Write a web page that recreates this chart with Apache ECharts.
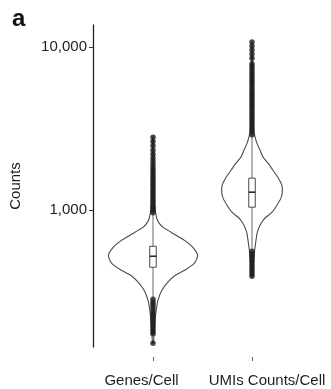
<!DOCTYPE html>
<html>
<head>
<meta charset="utf-8">
<script src="https://cdn.jsdelivr.net/npm/echarts@6/dist/echarts.min.js"></script>
<style>
  html, body { margin: 0; padding: 0; background: #ffffff; }
  #chart { width: 331px; height: 389px; }
</style>
</head>
<body>
<div id="chart"></div>
<script>
// Per-cell QC metrics on a log10 scale: violin + box plot per metric
const categories = ['Genes/Cell', 'UMIs Counts/Cell'];
const yTicks = [1000, 10000];

// Box statistics: [lower whisker, Q1, median, Q3, upper whisker]
const genesBox = [288, 447, 522, 601, 962];
const umisBox = [565, 1043, 1289, 1571, 2900];

// Violin outline: [count, relative half-width]
const genesDensity = [
  [153, 0.01], [190, 0.03], [230, 0.06], [280, 0.11], [323, 0.20], [361, 0.33],
  [399, 0.50], [428, 0.71], [473, 0.93], [529, 1.00], [593, 0.89], [655, 0.70],
  [723, 0.44], [760, 0.31], [787, 0.22], [825, 0.15], [868, 0.10], [930, 0.07],
  [1000, 0.05], [1152, 0.03], [1500, 0.02], [2026, 0.015], [2805, 0.01]
];
const umisDensity = [
  [393, 0.01], [480, 0.03], [569, 0.06], [655, 0.09], [733, 0.12], [809, 0.18],
  [893, 0.29], [972, 0.45], [1073, 0.56], [1185, 0.65], [1289, 0.68], [1423, 0.67],
  [1592, 0.58], [1758, 0.47], [1942, 0.36], [2113, 0.25], [2334, 0.18], [2575, 0.11],
  [2805, 0.07], [3097, 0.035], [4732, 0.015], [10740, 0.005]
];

// Outlying cells beyond the whiskers
const genesOutliers = [
  153, 175, 180, 186, 193, 200, 207, 214, 222, 230, 238, 247, 256, 265, 274, 284,
  965, 1000, 1035, 1070, 1110, 1150, 1190, 1230, 1275, 1320, 1370, 1420, 1470, 1520,
  1575, 1630, 1690, 1750, 1820, 1900, 1990, 2090, 2200, 2330, 2480, 2640, 2800
];
const umisOutliers = [
  394, 408, 423, 438, 454, 470, 487, 504, 522, 541, 560,
  2900, 3010, 3120, 3230, 3350, 3470, 3600, 3730, 3860, 4000, 4150, 4300, 4460, 4620,
  4790, 4960, 5140, 5330, 5520, 5720, 5930, 6150, 6370, 6600, 6840, 7090, 7350, 7620,
  7900, 8550, 9050, 9600, 10150, 10750
];

const boxes = [genesBox, umisBox];
const densities = [genesDensity, umisDensity];
const outliers = [genesOutliers, umisOutliers];

const FONT = 'Liberation Sans, Arial, Helvetica, sans-serif';
const TEXT = '#1e1e1e';
const VIOLIN_HALF = 0.45;   // half of a 0.9-wide violin, in x units
const BOX_HALF = 0.033;

function fmtThousands(v) {
  return String(Math.round(v)).replace(/\B(?=(\d{3})+(?!\d))/g, ',');
}

function renderViolin(params, api) {
  const i = params.dataIndex;
  const x = api.value(0);
  const dens = densities[i];
  const right = [], left = [];
  dens.forEach(function (d) {
    const c = api.coord([x, d[0]]);
    const w = api.coord([x + VIOLIN_HALF * d[1], d[0]])[0] - c[0];
    right.push([c[0] + w, c[1]]);
    left.push([c[0] - w, c[1]]);
  });
  const pts = right.concat(left.reverse());
  return {
    type: 'polygon',
    shape: { points: pts, smooth: 0.25 },
    style: { fill: '#ffffff', stroke: '#4a4a4a', lineWidth: 1.1 }
  };
}

function renderBox(params, api) {
  const i = params.dataIndex;
  const x = api.value(0);
  const b = boxes[i];
  const lo = api.coord([x, b[0]]);
  const q1 = api.coord([x, b[1]]);
  const md = api.coord([x, b[2]]);
  const q3 = api.coord([x, b[3]]);
  const hi = api.coord([x, b[4]]);
  const hw = api.coord([x + BOX_HALF, b[2]])[0] - md[0];
  return {
    type: 'group',
    children: [
      { type: 'line', shape: { x1: lo[0], y1: lo[1], x2: hi[0], y2: hi[1] },
        style: { stroke: '#6a6a6a', lineWidth: 1 } },
      { type: 'rect', shape: { x: md[0] - hw, y: q3[1], width: 2 * hw, height: q1[1] - q3[1] },
        style: { fill: '#ffffff', stroke: '#4a4a4a', lineWidth: 1 } },
      { type: 'line', shape: { x1: md[0] - hw, y1: md[1], x2: md[0] + hw, y2: md[1] },
        style: { stroke: '#2a2a2a', lineWidth: 1.6 } }
    ]
  };
}

const chart = echarts.init(document.getElementById('chart'), null, { renderer: 'canvas' });

chart.setOption({
  animation: false,
  backgroundColor: '#ffffff',
  title: {
    text: 'a', left: 7, top: 2,
    textStyle: { fontFamily: FONT, fontSize: 24, fontWeight: 'bold', color: '#111111' }
  },
  grid: { left: 93, right: 0, top: 25, bottom: 42, containLabel: false, outerBoundsMode: 'none' },
  xAxis: {
    type: 'value', min: 0.394, max: 2.798, offset: 10,
    axisLine: { show: false },
    splitLine: { show: false },
    axisTick: { show: true, length: 4, customValues: [1, 2], lineStyle: { color: '#666666', width: 1 } },
    axisLabel: {
      customValues: [1, 2], margin: 16,
      formatter: function (v) { return v === 1 ? '{g|' + categories[0] + '}' : '{u|' + categories[1] + '}'; },
      rich: {
        g: { fontFamily: FONT, fontSize: 15, color: TEXT, padding: [0, 23, 0, 0] },
        u: { fontFamily: FONT, fontSize: 15, color: TEXT, padding: [0, 0, 0, 30] }
      }
    }
  },
  yAxis: {
    type: 'log', logBase: 10, min: 145, max: 13650,
    name: 'Counts', nameLocation: 'middle', nameGap: 70, nameRotate: 90,
    nameTextStyle: { fontFamily: FONT, fontSize: 15, color: TEXT },
    axisLine: { show: true, lineStyle: { color: '#222222', width: 1.3 } },
    axisTick: { show: true, length: 4, customValues: yTicks, lineStyle: { color: '#333333' } },
    axisLabel: {
      customValues: yTicks, margin: 6,
      fontFamily: FONT, fontSize: 15, color: TEXT,
      formatter: function (v) { return fmtThousands(v); }
    },
    splitLine: { show: false }
  },
  series: [
    {
      name: 'violin', type: 'custom', renderItem: renderViolin,
      encode: { x: 0, y: 1 },
      data: [[1, genesBox[2]], [2, umisBox[2]]], z: 2
    },
    {
      name: 'box', type: 'custom', renderItem: renderBox,
      encode: { x: 0, y: 1 },
      data: [[1, genesBox[2]], [2, umisBox[2]]], z: 3
    },
    {
      name: 'outliers', type: 'scatter', symbol: 'circle', symbolSize: 5.5,
      itemStyle: { color: '#1c1c1c' }, z: 4,
      data: outliers[0].map(function (v) { return [1, v]; })
        .concat(outliers[1].map(function (v) { return [2, v]; }))
    }
  ]
});
</script>
</body>
</html>
